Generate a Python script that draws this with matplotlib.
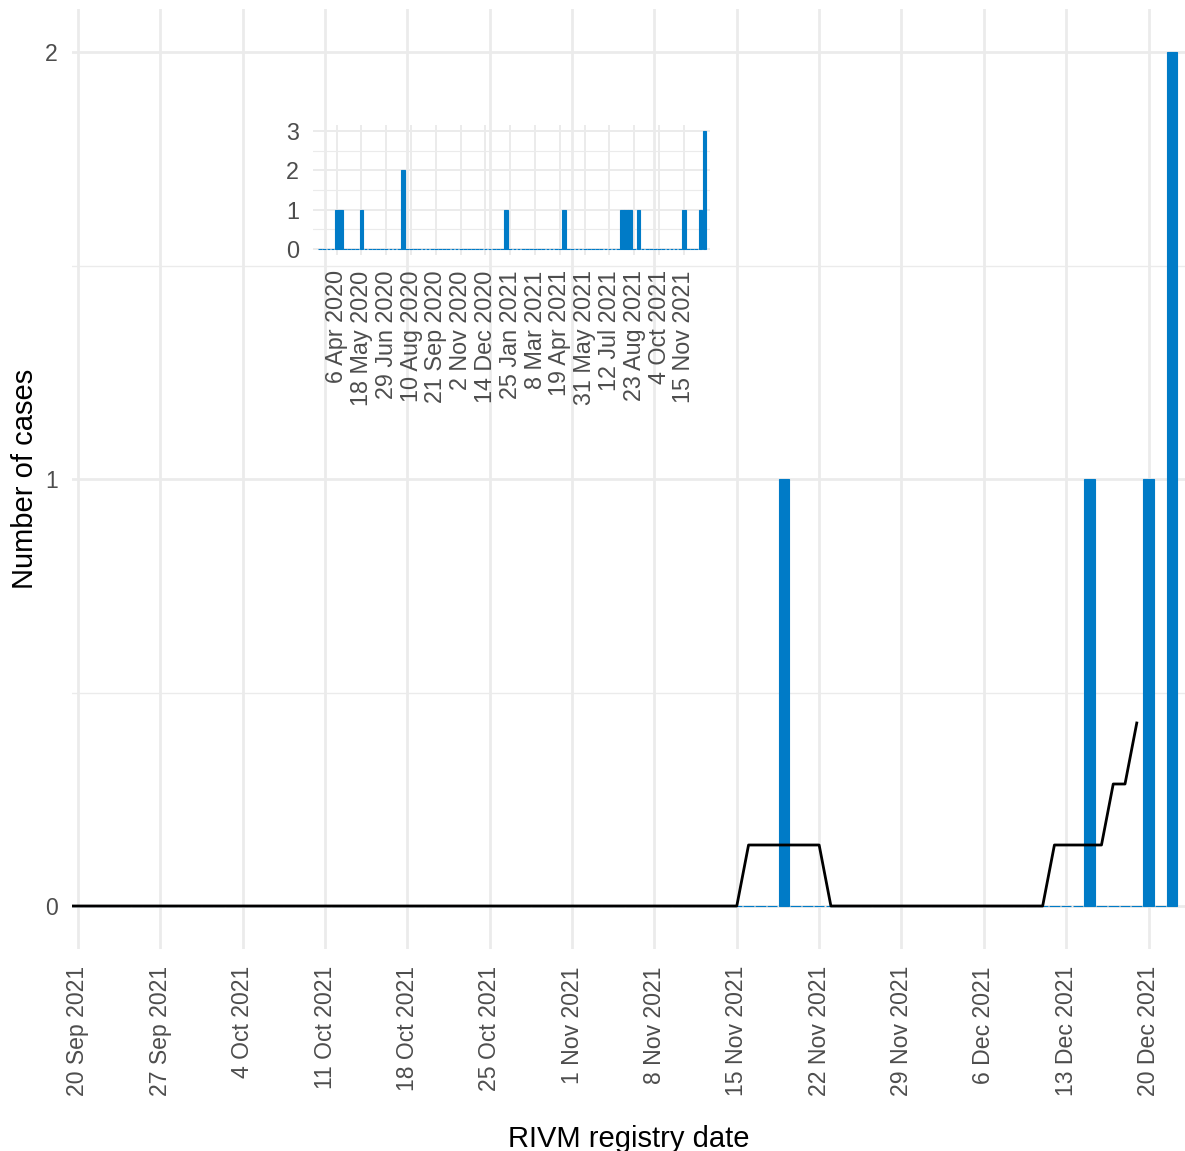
import matplotlib
matplotlib.use('Agg')
import matplotlib.pyplot as plt
import matplotlib.dates as mdates
import numpy as np
import pandas as pd

plt.rcParams['font.family'] = ['Liberation Sans', 'DejaVu Sans']

# daily cases, main panel (days not listed are 0)
daily_start = '2021-09-01'
daily_end = '2021-12-22'
case_dates = ['2021-11-19', '2021-12-15', '2021-12-20', '2021-12-22']
case_counts = [1, 1, 1, 2]

# weekly cases, inset (weeks not listed are 0)
week_start = '2020-03-09'
week_end = '2021-12-20'
week_case_dates = ['2020-04-06', '2020-04-13', '2020-05-18', '2020-07-27',
                   '2021-01-18', '2021-04-26', '2021-08-02', '2021-08-09',
                   '2021-08-16', '2021-08-30', '2021-11-15', '2021-12-13',
                   '2021-12-20']
week_case_counts = [1, 1, 1, 2, 1, 1, 1, 1, 1, 1, 1, 1, 3]

BLUE = '#007BC7'
GRID = '#EBEBEB'
TICK = '#4D4D4D'

daily = pd.Series(0, index=pd.date_range(daily_start, daily_end, freq='D'))
daily[pd.to_datetime(case_dates)] = case_counts
rolling = daily.rolling(7, center=True).mean()

weekly = pd.Series(0, index=pd.date_range(week_start, week_end, freq='7D'))
weekly[pd.to_datetime(week_case_dates)] = week_case_counts


def day_label(d):
    return '{} {}'.format(d.day, d.strftime('%b %Y'))


W, H = 1185, 1151
fig = plt.figure(figsize=(W / 100, H / 100), dpi=100)

# main panel
ax = fig.add_axes([72 / W, 1 - 948.7 / H, 1113 / W, 939.4 / H])
x = mdates.date2num(daily.index)
ax.bar(x, daily.values, width=0.9, color=BLUE, edgecolor=BLUE, linewidth=0.8, zorder=2)
ax.plot(x, rolling.values, color='black', lw=2.0, zorder=3)

x0 = mdates.date2num(pd.Timestamp('2021-09-20'))
ax.set_xlim(x0 - 0.51, x0 + 94.1)
ax.set_ylim(-0.1, 2.1)

mticks = pd.date_range('2021-09-20', '2021-12-20', freq='7D')
ax.set_xticks(mdates.date2num(mticks))
ax.set_xticklabels([day_label(d) for d in mticks], rotation=90, va='top', ha='center')
ax.set_yticks([0, 1, 2])
ax.set_yticks([0.5, 1.5], minor=True)
ax.grid(which='major', color=GRID, lw=2.0, zorder=0)
ax.grid(which='minor', axis='y', color=GRID, lw=1.0, zorder=0)
ax.set_axisbelow(True)
for s in ax.spines.values():
    s.set_visible(False)
ax.tick_params(which='both', length=0, labelsize=16.6, labelcolor=TICK)
ax.tick_params(axis='x', pad=12.5)
ax.tick_params(axis='y', pad=10)
ax.set_xlabel('RIVM registry date', fontsize=21)
ax.set_ylabel('Number of cases', fontsize=21)
ax.xaxis.set_label_coords(0.5, -0.188)
ax.yaxis.set_label_coords(-0.03, 0.5)

# inset, whole period by week
ax2 = fig.add_axes([313 / W, 1 - 255 / H, 397 / W, 130 / H])
ax2.set_facecolor('none')
xw = mdates.date2num(weekly.index)
ax2.bar(xw, weekly.values, width=6.3, color=BLUE, edgecolor=BLUE, linewidth=0.8, zorder=2)

w0 = mdates.date2num(pd.Timestamp('2020-04-06'))
ax2.set_xlim(w0 - 40.1, w0 + 632.2)
ax2.set_ylim(-0.15, 3.15)
iticks = pd.date_range('2020-04-06', '2021-11-15', freq='42D')
ax2.set_xticks(mdates.date2num(iticks))
ax2.set_xticklabels([day_label(d) for d in iticks], rotation=90, va='top', ha='center')
ax2.set_yticks([0, 1, 2, 3])
ax2.set_yticks([0.5, 1.5, 2.5], minor=True)
ax2.grid(which='major', color=GRID, lw=1.4, zorder=0)
ax2.grid(which='minor', axis='y', color=GRID, lw=0.8, zorder=0)
ax2.set_axisbelow(True)
for s in ax2.spines.values():
    s.set_visible(False)
ax2.tick_params(which='both', length=0, labelsize=16.8, labelcolor=TICK)
ax2.tick_params(axis='x', pad=11)
ax2.tick_params(axis='y', pad=10)

fig.savefig('out.png', dpi=100)
